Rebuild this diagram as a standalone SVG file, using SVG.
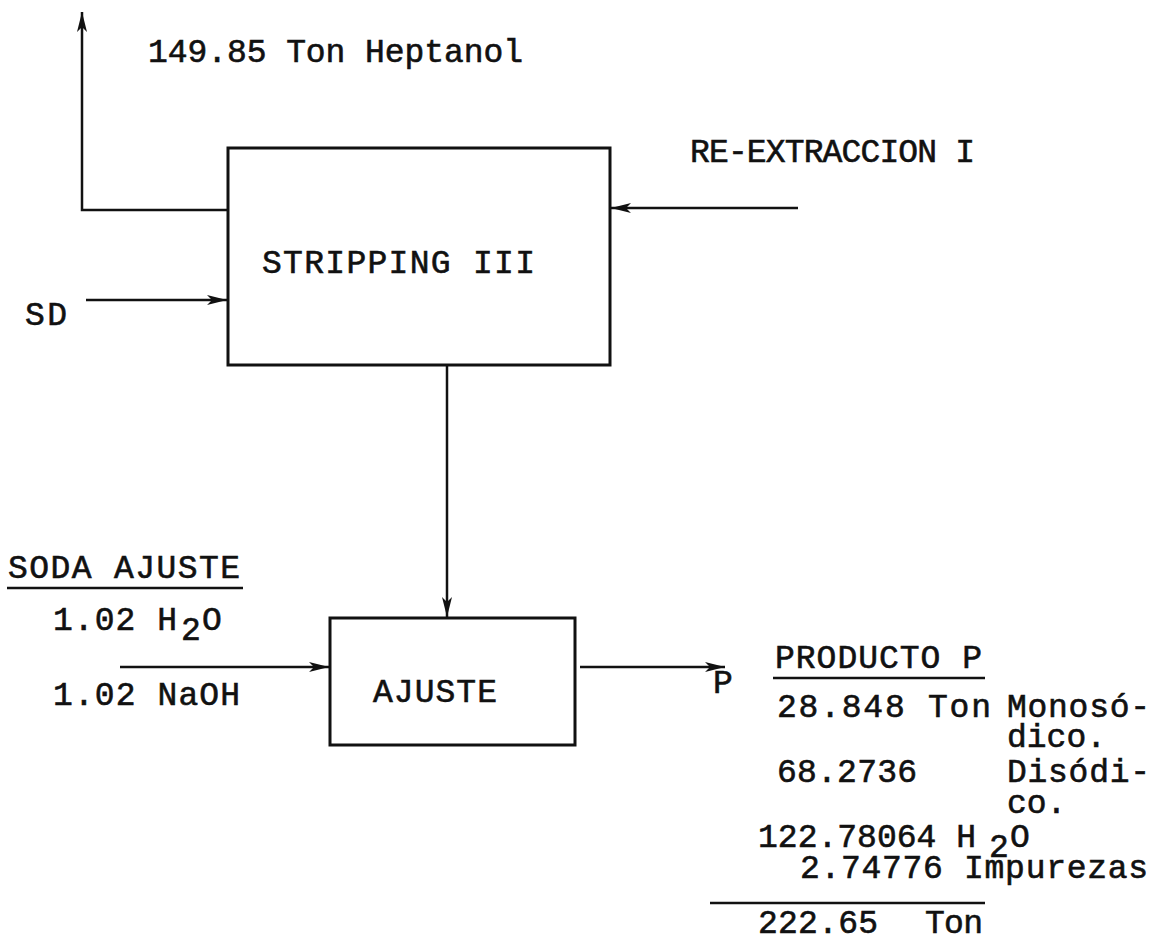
<svg xmlns="http://www.w3.org/2000/svg" width="1155" height="937" viewBox="0 0 1155 937">
<style>
.t{font-family:"Liberation Mono","Courier New",monospace;font-size:33px;fill:#111;stroke:#111;stroke-width:0.6}
.box{fill:none;stroke:#111;stroke-width:3}
.c{fill:none;stroke:#111;stroke-width:2.5}
.rule{stroke:#111;stroke-width:2.5}
</style>
<defs>
<marker id="ah" viewBox="0 0 20 10" refX="20" refY="5" markerWidth="20" markerHeight="10" markerUnits="userSpaceOnUse" orient="auto">
<path d="M0,0 L20,5 L0,10 L5,5 Z" fill="#111"/>
</marker>
</defs>
<rect width="1155" height="937" fill="#fff"/>
<g id="connectors">
<polyline class="c" points="228,210 82,210 82,12" marker-end="url(#ah)"/>
<line class="c" x1="798" y1="208" x2="611" y2="208" marker-end="url(#ah)"/>
<line class="c" x1="86" y1="300" x2="227" y2="300" marker-end="url(#ah)"/>
<line class="c" x1="447" y1="365" x2="447" y2="617" marker-end="url(#ah)"/>
<line class="c" x1="120" y1="667" x2="329" y2="667" marker-end="url(#ah)"/>
<line class="c" x1="580" y1="667" x2="725" y2="667" marker-end="url(#ah)"/>
</g>
<g id="stripping">
<rect class="box" x="228" y="148" width="382" height="217"/>
<text class="t" x="262" y="273" textLength="273" lengthAdjust="spacing">STRIPPING III</text>
</g>
<g id="ajuste">
<rect class="box" x="330" y="618" width="245" height="127"/>
<text class="t" x="373" y="702" textLength="124" lengthAdjust="spacing">AJUSTE</text>
</g>
<g id="heptanol">
<text class="t" x="148" y="62" textLength="375" lengthAdjust="spacing">149.85 Ton Heptanol</text>
</g>
<g id="reextraccion">
<text class="t" x="690" y="162" textLength="285" lengthAdjust="spacing">RE-EXTRACCION I</text>
</g>
<g id="sd">
<text class="t" x="25" y="325" textLength="42" lengthAdjust="spacing">SD</text>
</g>
<g id="soda">
<text class="t" x="8" y="578" textLength="232" lengthAdjust="spacing">SODA AJUSTE</text>
<line class="rule" x1="7" y1="588" x2="243" y2="588"/>
<text class="t" x="53" y="630" textLength="124" lengthAdjust="spacing">1.02 H</text>
<text class="t" x="181" y="640">2</text>
<text class="t" x="202" y="630">O</text>
<text class="t" x="53" y="705" textLength="187" lengthAdjust="spacing">1.02 NaOH</text>
</g>
<g id="producto">
<text class="t" x="713" y="693">P</text>
<text class="t" x="775" y="668" textLength="207" lengthAdjust="spacing">PRODUCTO P</text>
<line class="rule" x1="773" y1="678" x2="985" y2="678"/>
<text class="t" x="777" y="717" textLength="214" lengthAdjust="spacing">28.848 Ton</text>
<text class="t" x="1007" y="717" textLength="143" lengthAdjust="spacing">Monosó-</text>
<text class="t" x="1007" y="747">dico.</text>
<text class="t" x="777" y="782" textLength="140" lengthAdjust="spacing">68.2736</text>
<text class="t" x="1007" y="782" textLength="143" lengthAdjust="spacing">Disódi-</text>
<text class="t" x="1007" y="813">co.</text>
<text class="t" x="758" y="847" textLength="218" lengthAdjust="spacing">122.78064 H</text>
<text class="t" x="989" y="857">2</text>
<text class="t" x="1010" y="847">O</text>
<text class="t" x="800" y="878" textLength="348" lengthAdjust="spacing">2.74776 Impurezas</text>
<line class="rule" x1="710" y1="903" x2="985" y2="903"/>
<text class="t" x="758" y="933" textLength="120" lengthAdjust="spacing">222.65</text>
<text class="t" x="925" y="933" textLength="58" lengthAdjust="spacing">Ton</text>
</g>
</svg>
